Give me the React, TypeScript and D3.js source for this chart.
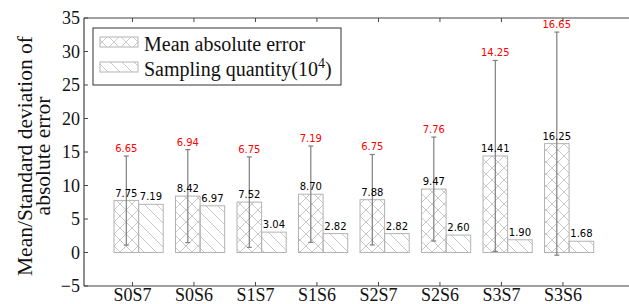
import React from "react";
import * as d3 from "d3";

const categories = ["S0S7", "S0S6", "S1S7", "S1S6", "S2S7", "S2S6", "S3S7", "S3S6"];
const meanError = [7.75, 8.42, 7.52, 8.7, 7.88, 9.47, 14.41, 16.25];
const stdError = [6.65, 6.94, 6.75, 7.19, 6.75, 7.76, 14.25, 16.65];
const samplingQty = [7.19, 6.97, 3.04, 2.82, 2.82, 2.6, 1.9, 1.68];
const yTicks = [-5, 0, 5, 10, 15, 20, 25, 30, 35];

const W = 629;
const H = 304;
const left = 84, right = 629, top = 18, bottom = 286;
const barW = 0.4;

export default function App() {
  const x = d3.scaleLinear().domain([-0.488, 8.374]).range([left, right]);
  const y = d3.scaleLinear().domain([-5, 35]).range([bottom, top]);
  const bw = x(barW) - x(0);
  const serif = "'Liberation Serif', 'Times New Roman', serif";
  const sans = "'DejaVu Sans', sans-serif";
  const edge = "#b3b3b3";
  const hatch = "#bbbbbb";
  return (
    <div style={{ position: "fixed", left: 0, top: 0, width: W, height: H, overflow: "hidden" }}>
      <svg width={W} height={H} style={{ display: "block", background: "#fff" }}>
        <defs>
          <pattern id="xh" patternUnits="userSpaceOnUse" width={12} height={12}>
            <path d="M0,0L12,12M0,12L12,0" stroke={hatch} strokeWidth={0.8} fill="none" />
          </pattern>
          <pattern id="bh" patternUnits="userSpaceOnUse" width={12} height={12}>
            <path d="M0,0L12,12M-6,6L6,18M6,-6L18,6" stroke={hatch} strokeWidth={0.8} fill="none" />
          </pattern>
        </defs>
        {/* bars */}
        {categories.map((c, i) => {
          const x0 = x(i);
          const x1 = x(i + barW);
          return (
            <g key={c}>
              <rect x={x0} y={y(meanError[i])} width={bw} height={y(0) - y(meanError[i])}
                fill="url(#xh)" stroke={edge} strokeWidth={1} />
              <rect x={x1} y={y(samplingQty[i])} width={bw} height={y(0) - y(samplingQty[i])}
                fill="url(#bh)" stroke={edge} strokeWidth={1} />
            </g>
          );
        })}
        {/* error bars */}
        {categories.map((c, i) => {
          const cx = x(i + barW / 2);
          const lo = y(meanError[i] - stdError[i]);
          const hi = y(meanError[i] + stdError[i]);
          return (
            <g key={c + "e"} stroke="#7f7f7f" strokeWidth={1.2}>
              <line x1={cx} x2={cx} y1={lo} y2={hi} />
              <line x1={cx - 2.5} x2={cx + 2.5} y1={lo} y2={lo} />
              <line x1={cx - 2.5} x2={cx + 2.5} y1={hi} y2={hi} />
            </g>
          );
        })}
        {/* value labels */}
        {categories.map((c, i) => {
          const cx = x(i + barW / 2);
          const sx = x(i + barW * 1.5);
          return (
            <g key={c + "t"} fontFamily={sans} fontSize={10} textAnchor="middle">
              <text x={cx} y={y(meanError[i]) - 4} fill="#000">{meanError[i].toFixed(2)}</text>
              <text x={sx} y={y(samplingQty[i]) - 4} fill="#000">{samplingQty[i].toFixed(2)}</text>
              <text x={cx} y={y(meanError[i] + stdError[i]) - 4} fill="#ff0000">{stdError[i].toFixed(2)}</text>
            </g>
          );
        })}
        {/* spines */}
        <g stroke="#444" strokeWidth={1.2} fill="none">
          <line x1={left} x2={right} y1={top} y2={top} />
          <line x1={left} x2={right} y1={bottom} y2={bottom} />
          <line x1={left} x2={left} y1={top} y2={bottom} />
        </g>
        {/* y ticks */}
        {yTicks.map((t) => (
          <g key={"y" + t}>
            <line x1={left} x2={left + 4} y1={y(t)} y2={y(t)} stroke="#444" strokeWidth={1} />
            <text x={left - 4} y={y(t)} dy="0.35em" textAnchor="end" fontFamily={serif} fontSize={18} fill="#111">
              {t < 0 ? "\u2212" + Math.abs(t) : t}
            </text>
          </g>
        ))}
        {/* x ticks */}
        {categories.map((c, i) => {
          const tx = x(i + 0.3);
          return (
            <g key={"x" + c}>
              <line x1={tx} x2={tx} y1={bottom} y2={bottom - 4} stroke="#444" strokeWidth={1} />
              <line x1={tx} x2={tx} y1={top} y2={top + 4} stroke="#444" strokeWidth={1} />
              <text x={tx} y={bottom + 14.5} textAnchor="middle" fontFamily={serif} fontSize={18} fill="#111">{c}</text>
            </g>
          );
        })}
        {/* y label */}
        <g transform={`translate(32, 156) rotate(-90)`} fontFamily={serif} fontSize={21.5} fill="#111" textAnchor="middle">
          <text x={0} y={0}>Mean/Standard deviation of</text>
          <text x={0} y={18}>absolute error</text>
        </g>
        {/* legend */}
        <g>
          <rect x={93} y={28} width={248} height={57} fill="#fff" stroke="#333" strokeWidth={1} />
          <rect x={100} y={37} width={38} height={10} fill="url(#xh)" stroke={edge} strokeWidth={1} />
          <rect x={100} y={62} width={38} height={10} fill="url(#bh)" stroke={edge} strokeWidth={1} />
          <text x={144} y={51} fontFamily={serif} fontSize={20} fill="#111">Mean absolute error</text>
          <text x={144} y={76} fontFamily={serif} fontSize={20} fill="#111">
            Sampling quantity(10<tspan dy={-8} fontSize={14}>4</tspan><tspan dy={8}>)</tspan>
          </text>
        </g>
      </svg>
    </div>
  );
}
